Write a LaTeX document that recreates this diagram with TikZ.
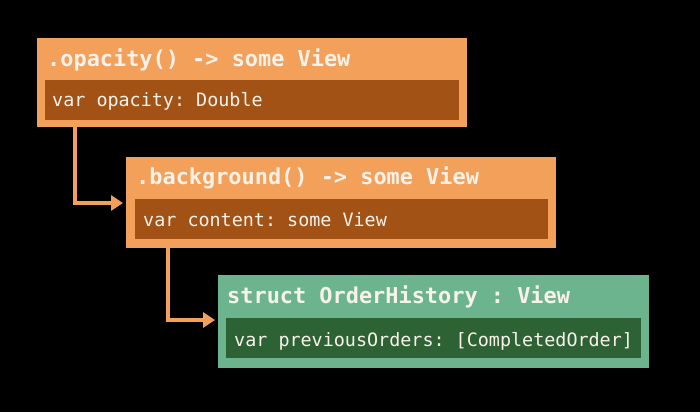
\documentclass[tikz,border=0pt]{standalone}
\usepackage{fontspec}
\setmonofont{DejaVu Sans Mono}
\usetikzlibrary{arrows.meta}
\definecolor{modfill}{RGB}{243,160,90}
\definecolor{modinner}{RGB}{163,82,22}
\definecolor{viewfill}{RGB}{108,180,142}
\definecolor{viewinner}{RGB}{44,98,52}
\definecolor{codetext}{RGB}{248,242,234}
\tikzset{
  outerbox/.style={anchor=north west, inner sep=0pt, minimum width=#1},
  innerbox/.style={anchor=north west, inner sep=0pt, minimum height=40pt, minimum width=#1},
  titletext/.style={anchor=base west, inner sep=0pt, text=codetext, font=\ttfamily\bfseries\fontsize{21.9}{24}\selectfont},
  fieldtext/.style={anchor=base west, inner sep=0pt, text=codetext, font=\ttfamily\fontsize{18.4}{22}\selectfont},
  conn/.style={draw=modfill, line width=3.5pt, shorten >=3pt, -{Triangle[length=12pt,width=15pt]}}
}
\begin{document}
\begin{tikzpicture}[x=1pt, y=-1pt]
  \fill[black] (0,0) rectangle (700,412);
  \useasboundingbox (0,0) rectangle (700,412);

  % modifier: opacity
  \node[outerbox=430pt, minimum height=89pt, fill=modfill] (op) at (37,38) {};
  \node[innerbox=414pt, fill=modinner] (opin) at (45,80) {};
  \node[titletext] (optitle) at (47,66) {.opacity() -> some View};
  \node[fieldtext] (opfield) at (52,106) {var opacity: Double};

  % modifier: background
  \node[outerbox=430pt, minimum height=91pt, fill=modfill] (bg) at (126,157) {};
  \node[innerbox=413pt, fill=modinner] (bgin) at (135,199) {};
  \node[titletext] (bgtitle) at (136,184) {.background() -> some View};
  \node[fieldtext] (bgfield) at (143,226) {var content: some View};

  % wrapped view
  \node[outerbox=431pt, minimum height=93pt, fill=viewfill] (oh) at (218,275) {};
  \node[innerbox=415pt, fill=viewinner] (ohin) at (226,318) {};
  \node[titletext] (ohtitle) at (227,303) {struct OrderHistory : View};
  \node[fieldtext] (ohfield) at (234,346) {var previousOrders: [CompletedOrder]};

  % nesting connectors
  \draw[conn] ([xshift=38pt]op.south west) |- ([yshift=-46pt]bg.north west);
  \draw[conn] ([xshift=42pt]bg.south west) |- ([yshift=-45pt]oh.north west);
\end{tikzpicture}
\end{document}
